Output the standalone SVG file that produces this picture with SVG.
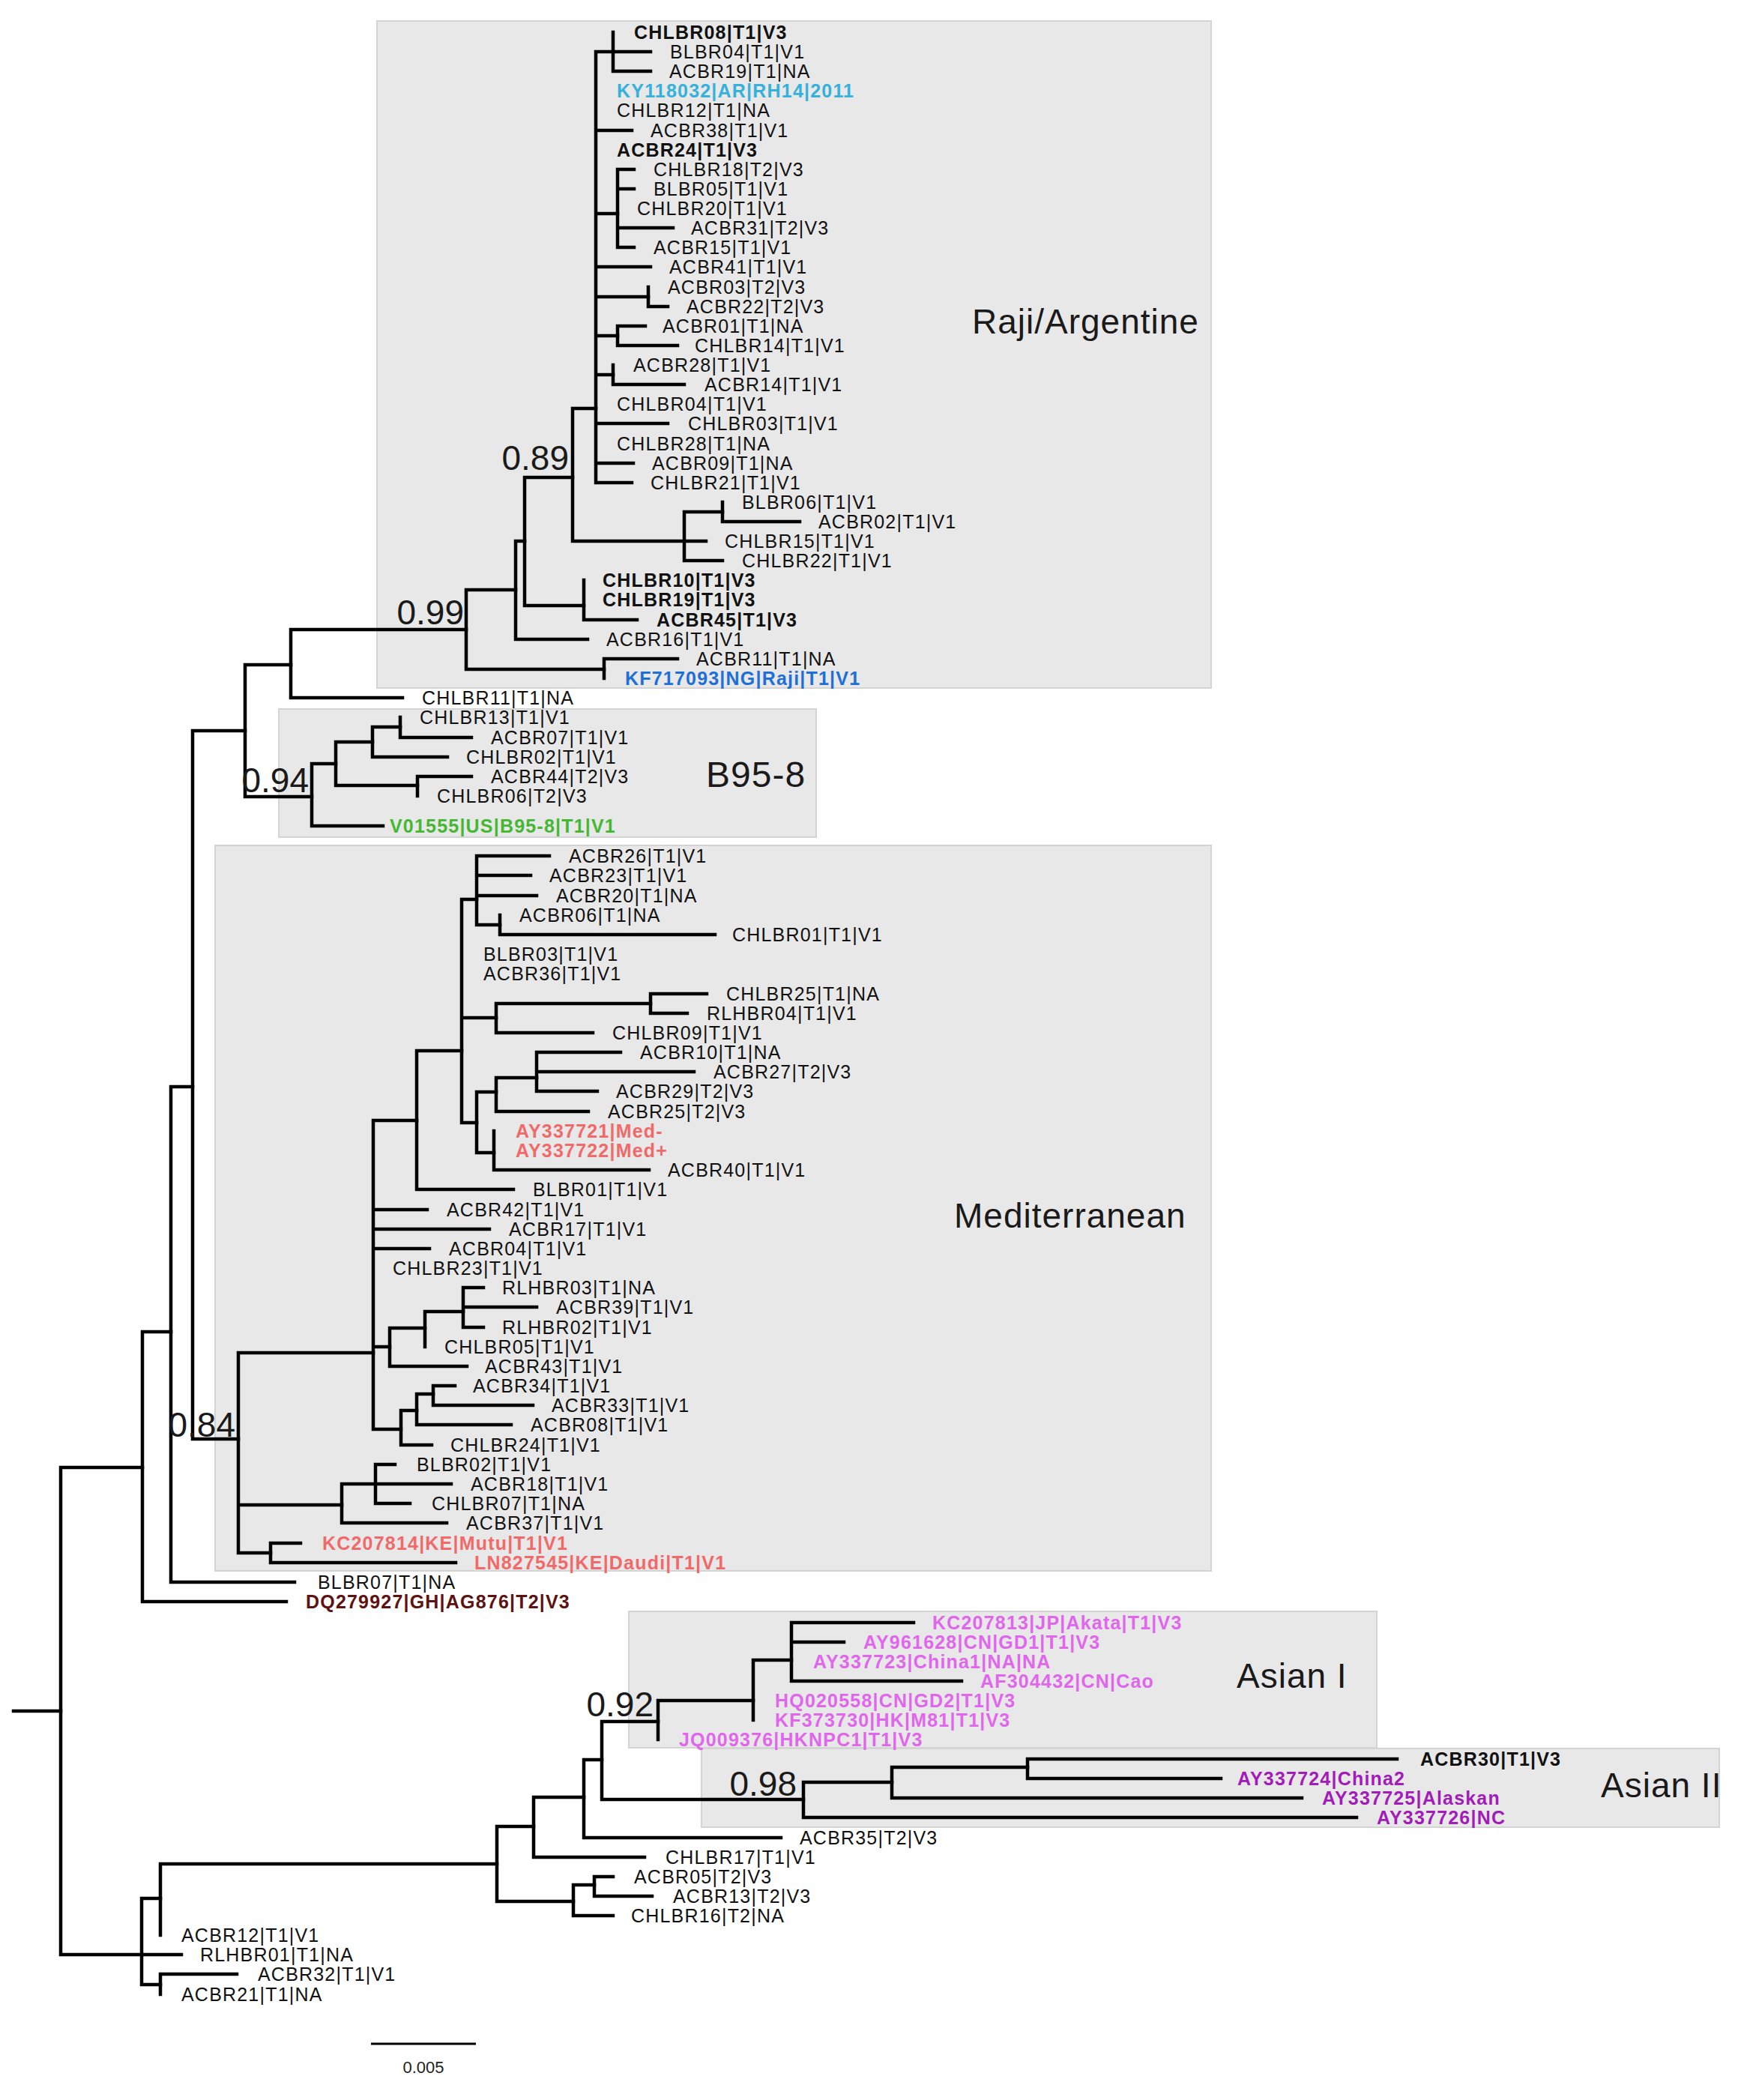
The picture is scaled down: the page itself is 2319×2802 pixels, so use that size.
<svg xmlns="http://www.w3.org/2000/svg" width="2319" height="2802" viewBox="0 0 2319 2802">
<style>
.bg{fill:#fff}
.box{fill:#e8e8e8;stroke:#d4d4d4;stroke-width:2}
text{font-family:"Liberation Sans",Arial,Helvetica,sans-serif;fill:#111}
.t{font-size:25px;letter-spacing:1.2px}
.b{font-weight:bold}
.big{font-size:46px;letter-spacing:1px;fill:#1a1a1a}
.num{font-size:46px;text-anchor:end;fill:#1a1a1a}
.cy{fill:#35b1dc}.bl{fill:#1f6fd8}.gr{fill:#45b833}.sa{fill:#f06a6a}.dr{fill:#5e1212}.pk{fill:#e066ec}.pu{fill:#a21cb8}
</style>
<rect class="bg" x="0" y="0" width="2319" height="2802"/>
<g id="clades">
<g id="clade-raji"><rect class="box" x="503" y="28" width="1113" height="890"/><text class="big" x="1297" y="445">Raji/Argentine</text></g>
<g id="clade-b958"><rect class="box" x="372" y="946" width="717" height="171"/><text class="big" x="942" y="1050" style="font-size:48px">B95-8</text></g>
<g id="clade-med"><rect class="box" x="287" y="1128" width="1329" height="968"/><text class="big" x="1273" y="1638">Mediterranean</text></g>
<g id="clade-asian1"><rect class="box" x="839" y="2150" width="998" height="182"/><text class="big" x="1650" y="2252">Asian I</text></g>
<g id="clade-asian2"><rect class="box" x="936" y="2333" width="1358" height="105"/><text class="big" x="2136" y="2398">Asian II</text></g>
</g>
<g id="connectors" fill="none" stroke="#000" stroke-width="4.5" stroke-linecap="square">
<path d="M18,2283H81"/>
<path d="M81,1958V2608M81,1958H190M81,2608H189"/>
<path d="M190,1777V2137M190,1777H228M190,2137H382"/>
<path d="M228,1450V2111M228,1450H257M228,2111H393"/>
<path d="M257,975V1920M257,975H327M257,1920H318"/>
<path d="M327,887V1063M327,887H388M327,1063H416"/>
<path d="M388,840V931M388,840H622M388,931H537"/>
<path d="M622,787V893M622,787H688M622,893H806"/>
<path d="M806,879V905M806,879H904"/>
<path d="M688,722V853M688,722H700M688,853H784"/>
<path d="M700,637V808M700,637H764M700,808H779"/>
<path d="M779,774V827M779,827H850"/>
<path d="M764,545V722M764,545H795M764,722H913"/>
<path d="M913,683V748M913,683H964M913,722H942M913,748H964"/>
<path d="M964,670V696M964,696H1067"/>
<path d="M795,69V644M795,69H818M795,174H843M795,285H824M795,356H868M795,396H865M795,448H824M795,500H818M795,565H891M795,618H845M795,644H843"/>
<path d="M818,43V95M818,69H868M818,95H868"/>
<path d="M824,226V330M824,226H846M824,252H846M824,304H898M824,330H846"/>
<path d="M865,383V409M865,409H891"/>
<path d="M824,435V461M824,435H861M824,461H904"/>
<path d="M818,487V513M818,513H913"/>
<path d="M416,1019V1102M416,1019H448M416,1102H511"/>
<path d="M448,990V1048M448,990H497M448,1048H557"/>
<path d="M497,970V1010M497,970H534M497,1010H597"/>
<path d="M534,957V984M534,984H629"/>
<path d="M557,1036V1062M557,1036H629"/>
<path d="M318,1805V2072M318,1805H498M318,2008H456M318,2072H361"/>
<path d="M498,1495V1907M498,1495H556M498,1614H570M498,1640H653M498,1666H573M498,1797H520M498,1907H535"/>
<path d="M556,1402V1587M556,1402H616M556,1587H685"/>
<path d="M616,1200V1498M616,1200H636M616,1358H662M616,1498H636"/>
<path d="M636,1142V1234M636,1142H733M636,1168H708M636,1195H716M636,1234H667"/>
<path d="M667,1221V1247M667,1247H954"/>
<path d="M662,1339V1378M662,1339H868M662,1378H791"/>
<path d="M868,1326V1352M868,1326H943M868,1352H917"/>
<path d="M636,1457V1538M636,1457H662M636,1538H659"/>
<path d="M662,1438V1483M662,1438H716M662,1483H785"/>
<path d="M716,1404V1456M716,1404H828M716,1430H926M716,1456H797"/>
<path d="M659,1509V1561M659,1561H866"/>
<path d="M520,1772V1823M520,1772H567M520,1823H623"/>
<path d="M567,1750V1797M567,1750H618"/>
<path d="M618,1718V1771M618,1718H645M618,1744H716M618,1771H645"/>
<path d="M535,1882V1928M535,1882H556M535,1928H576"/>
<path d="M556,1860V1901M556,1860H578M556,1901H682"/>
<path d="M578,1849V1875M578,1849H607M578,1875H711"/>
<path d="M456,1980V2032M456,1980H501M456,2032H596"/>
<path d="M501,1954V2006M501,1954H527M501,1980H602M501,2006H547"/>
<path d="M361,2059V2085M361,2059H401M361,2085H608"/>
<path d="M189,2533V2648M189,2533H214M189,2608H242M189,2648H214"/>
<path d="M214,2487V2582M214,2487H663"/>
<path d="M214,2634V2661M214,2634H316"/>
<path d="M663,2437V2537M663,2437H712M663,2537H765"/>
<path d="M765,2515V2556M765,2515H793M765,2556H818"/>
<path d="M793,2504V2530M793,2504H818M793,2530H870"/>
<path d="M712,2398V2478M712,2398H779M712,2478H860"/>
<path d="M779,2348V2452M779,2348H803M779,2452H1042"/>
<path d="M803,2297V2401M803,2297H878M803,2401H1072"/>
<path d="M878,2269V2321M878,2269H1005"/>
<path d="M1005,2215V2295M1005,2215H1056"/>
<path d="M1056,2165V2243M1056,2165H1219M1056,2191H1126M1056,2243H1283"/>
<path d="M1072,2378V2425M1072,2378H1190M1072,2425H1810"/>
<path d="M1190,2358V2399M1190,2358H1371M1190,2399H1737"/>
<path d="M1371,2347V2373M1371,2347H1864M1371,2373H1629"/>
</g>
<g id="support">
<text class="num" x="759" y="627">0.89</text>
<text class="num" x="619" y="833">0.99</text>
<text class="num" x="412" y="1057">0.94</text>
<text class="num" x="314" y="1917">0.84</text>
<text class="num" x="872" y="2290">0.92</text>
<text class="num" x="1063" y="2396">0.98</text>
</g>
<g id="tips" class="t">
<g id="CHLBR08"><text class="b" x="846" y="52">CHLBR08|T1|V3</text></g>
<g id="BLBR04"><text x="894" y="78">BLBR04|T1|V1</text></g>
<g id="ACBR19"><text x="893" y="104">ACBR19|T1|NA</text></g>
<g id="KY118032"><text class="b cy" x="823" y="130">KY118032|AR|RH14|2011</text></g>
<g id="CHLBR12"><text x="823" y="156">CHLBR12|T1|NA</text></g>
<g id="ACBR38"><text x="868" y="183">ACBR38|T1|V1</text></g>
<g id="ACBR24"><text class="b" x="823" y="209">ACBR24|T1|V3</text></g>
<g id="CHLBR18"><text x="872" y="235">CHLBR18|T2|V3</text></g>
<g id="BLBR05"><text x="872" y="261">BLBR05|T1|V1</text></g>
<g id="CHLBR20"><text x="850" y="287">CHLBR20|T1|V1</text></g>
<g id="ACBR31"><text x="922" y="313">ACBR31|T2|V3</text></g>
<g id="ACBR15"><text x="872" y="339">ACBR15|T1|V1</text></g>
<g id="ACBR41"><text x="893" y="365">ACBR41|T1|V1</text></g>
<g id="ACBR03"><text x="891" y="392">ACBR03|T2|V3</text></g>
<g id="ACBR22"><text x="916" y="418">ACBR22|T2|V3</text></g>
<g id="ACBR01"><text x="884" y="444">ACBR01|T1|NA</text></g>
<g id="CHLBR14"><text x="927" y="470">CHLBR14|T1|V1</text></g>
<g id="ACBR28"><text x="845" y="496">ACBR28|T1|V1</text></g>
<g id="ACBR14"><text x="940" y="522">ACBR14|T1|V1</text></g>
<g id="CHLBR04"><text x="823" y="548">CHLBR04|T1|V1</text></g>
<g id="CHLBR03"><text x="918" y="574">CHLBR03|T1|V1</text></g>
<g id="CHLBR28"><text x="823" y="601">CHLBR28|T1|NA</text></g>
<g id="ACBR09"><text x="870" y="627">ACBR09|T1|NA</text></g>
<g id="CHLBR21"><text x="868" y="653">CHLBR21|T1|V1</text></g>
<g id="BLBR06"><text x="990" y="679">BLBR06|T1|V1</text></g>
<g id="ACBR02"><text x="1092" y="705">ACBR02|T1|V1</text></g>
<g id="CHLBR15"><text x="967" y="731">CHLBR15|T1|V1</text></g>
<g id="CHLBR22"><text x="990" y="757">CHLBR22|T1|V1</text></g>
<g id="CHLBR10"><text class="b" x="804" y="783">CHLBR10|T1|V3</text></g>
<g id="CHLBR19"><text class="b" x="804" y="809">CHLBR19|T1|V3</text></g>
<g id="ACBR45"><text class="b" x="876" y="836">ACBR45|T1|V3</text></g>
<g id="ACBR16"><text x="809" y="862">ACBR16|T1|V1</text></g>
<g id="ACBR11"><text x="929" y="888">ACBR11|T1|NA</text></g>
<g id="KF717093"><text class="b bl" x="834" y="914">KF717093|NG|Raji|T1|V1</text></g>
<g id="CHLBR11"><text x="563" y="940">CHLBR11|T1|NA</text></g>
<g id="CHLBR13"><text x="560" y="966">CHLBR13|T1|V1</text></g>
<g id="ACBR07"><text x="655" y="993">ACBR07|T1|V1</text></g>
<g id="CHLBR02"><text x="622" y="1019">CHLBR02|T1|V1</text></g>
<g id="ACBR44"><text x="655" y="1045">ACBR44|T2|V3</text></g>
<g id="CHLBR06"><text x="583" y="1071">CHLBR06|T2|V3</text></g>
<g id="V01555"><text class="b gr" x="520" y="1111">V01555|US|B95-8|T1|V1</text></g>
<g id="ACBR26"><text x="759" y="1151">ACBR26|T1|V1</text></g>
<g id="ACBR23"><text x="733" y="1177">ACBR23|T1|V1</text></g>
<g id="ACBR20"><text x="742" y="1204">ACBR20|T1|NA</text></g>
<g id="ACBR06"><text x="693" y="1230">ACBR06|T1|NA</text></g>
<g id="CHLBR01"><text x="977" y="1256">CHLBR01|T1|V1</text></g>
<g id="BLBR03"><text x="645" y="1282">BLBR03|T1|V1</text></g>
<g id="ACBR36"><text x="645" y="1308">ACBR36|T1|V1</text></g>
<g id="CHLBR25"><text x="969" y="1335">CHLBR25|T1|NA</text></g>
<g id="RLHBR04"><text x="943" y="1361">RLHBR04|T1|V1</text></g>
<g id="CHLBR09"><text x="817" y="1387">CHLBR09|T1|V1</text></g>
<g id="ACBR10"><text x="854" y="1413">ACBR10|T1|NA</text></g>
<g id="ACBR27"><text x="952" y="1439">ACBR27|T2|V3</text></g>
<g id="ACBR29"><text x="822" y="1465">ACBR29|T2|V3</text></g>
<g id="ACBR25"><text x="811" y="1492">ACBR25|T2|V3</text></g>
<g id="AY337721"><text class="b sa" x="688" y="1518">AY337721|Med-</text></g>
<g id="AY337722"><text class="b sa" x="688" y="1544">AY337722|Med+</text></g>
<g id="ACBR40"><text x="891" y="1570">ACBR40|T1|V1</text></g>
<g id="BLBR01"><text x="711" y="1596">BLBR01|T1|V1</text></g>
<g id="ACBR42"><text x="596" y="1623">ACBR42|T1|V1</text></g>
<g id="ACBR17"><text x="679" y="1649">ACBR17|T1|V1</text></g>
<g id="ACBR04"><text x="599" y="1675">ACBR04|T1|V1</text></g>
<g id="CHLBR23"><text x="524" y="1701">CHLBR23|T1|V1</text></g>
<g id="RLHBR03"><text x="670" y="1727">RLHBR03|T1|NA</text></g>
<g id="ACBR39"><text x="742" y="1753">ACBR39|T1|V1</text></g>
<g id="RLHBR02"><text x="670" y="1780">RLHBR02|T1|V1</text></g>
<g id="CHLBR05"><text x="593" y="1806">CHLBR05|T1|V1</text></g>
<g id="ACBR43"><text x="647" y="1832">ACBR43|T1|V1</text></g>
<g id="ACBR34"><text x="631" y="1858">ACBR34|T1|V1</text></g>
<g id="ACBR33"><text x="736" y="1884">ACBR33|T1|V1</text></g>
<g id="ACBR08"><text x="708" y="1910">ACBR08|T1|V1</text></g>
<g id="CHLBR24"><text x="601" y="1937">CHLBR24|T1|V1</text></g>
<g id="BLBR02"><text x="556" y="1963">BLBR02|T1|V1</text></g>
<g id="ACBR18"><text x="628" y="1989">ACBR18|T1|V1</text></g>
<g id="CHLBR07"><text x="576" y="2015">CHLBR07|T1|NA</text></g>
<g id="ACBR37"><text x="622" y="2041">ACBR37|T1|V1</text></g>
<g id="KC207814"><text class="b sa" x="430" y="2068">KC207814|KE|Mutu|T1|V1</text></g>
<g id="LN827545"><text class="b sa" x="633" y="2094">LN827545|KE|Daudi|T1|V1</text></g>
<g id="BLBR07"><text x="424" y="2120">BLBR07|T1|NA</text></g>
<g id="DQ279927"><text class="b dr" x="408" y="2146">DQ279927|GH|AG876|T2|V3</text></g>
<g id="KC207813"><text class="b pk" x="1244" y="2174">KC207813|JP|Akata|T1|V3</text></g>
<g id="AY961628"><text class="b pk" x="1152" y="2200">AY961628|CN|GD1|T1|V3</text></g>
<g id="AY337723"><text class="b pk" x="1085" y="2226">AY337723|China1|NA|NA</text></g>
<g id="AF304432"><text class="b pk" x="1308" y="2252">AF304432|CN|Cao</text></g>
<g id="HQ020558"><text class="b pk" x="1034" y="2278">HQ020558|CN|GD2|T1|V3</text></g>
<g id="KF373730"><text class="b pk" x="1034" y="2304">KF373730|HK|M81|T1|V3</text></g>
<g id="JQ009376"><text class="b pk" x="906" y="2330">JQ009376|HKNPC1|T1|V3</text></g>
<g id="ACBR30"><text class="b" x="1895" y="2356">ACBR30|T1|V3</text></g>
<g id="AY337724"><text class="b pu" x="1651" y="2382">AY337724|China2</text></g>
<g id="AY337725"><text class="b pu" x="1764" y="2408">AY337725|Alaskan</text></g>
<g id="AY337726"><text class="b pu" x="1837" y="2434">AY337726|NC</text></g>
<g id="ACBR35"><text x="1067" y="2461">ACBR35|T2|V3</text></g>
<g id="CHLBR17"><text x="888" y="2487">CHLBR17|T1|V1</text></g>
<g id="ACBR05"><text x="846" y="2513">ACBR05|T2|V3</text></g>
<g id="ACBR13"><text x="898" y="2539">ACBR13|T2|V3</text></g>
<g id="CHLBR16"><text x="842" y="2565">CHLBR16|T2|NA</text></g>
<g id="ACBR12"><text x="242" y="2591">ACBR12|T1|V1</text></g>
<g id="RLHBR01"><text x="267" y="2617">RLHBR01|T1|NA</text></g>
<g id="ACBR32"><text x="344" y="2643">ACBR32|T1|V1</text></g>
<g id="ACBR21"><text x="242" y="2670">ACBR21|T1|NA</text></g>
</g>
<g id="scalebar">
<path d="M495,2727H635" stroke="#000" stroke-width="3" fill="none"/>
<text x="565" y="2766" text-anchor="middle" style="font-size:22px;fill:#222">0.005</text>
</g>
</svg>
